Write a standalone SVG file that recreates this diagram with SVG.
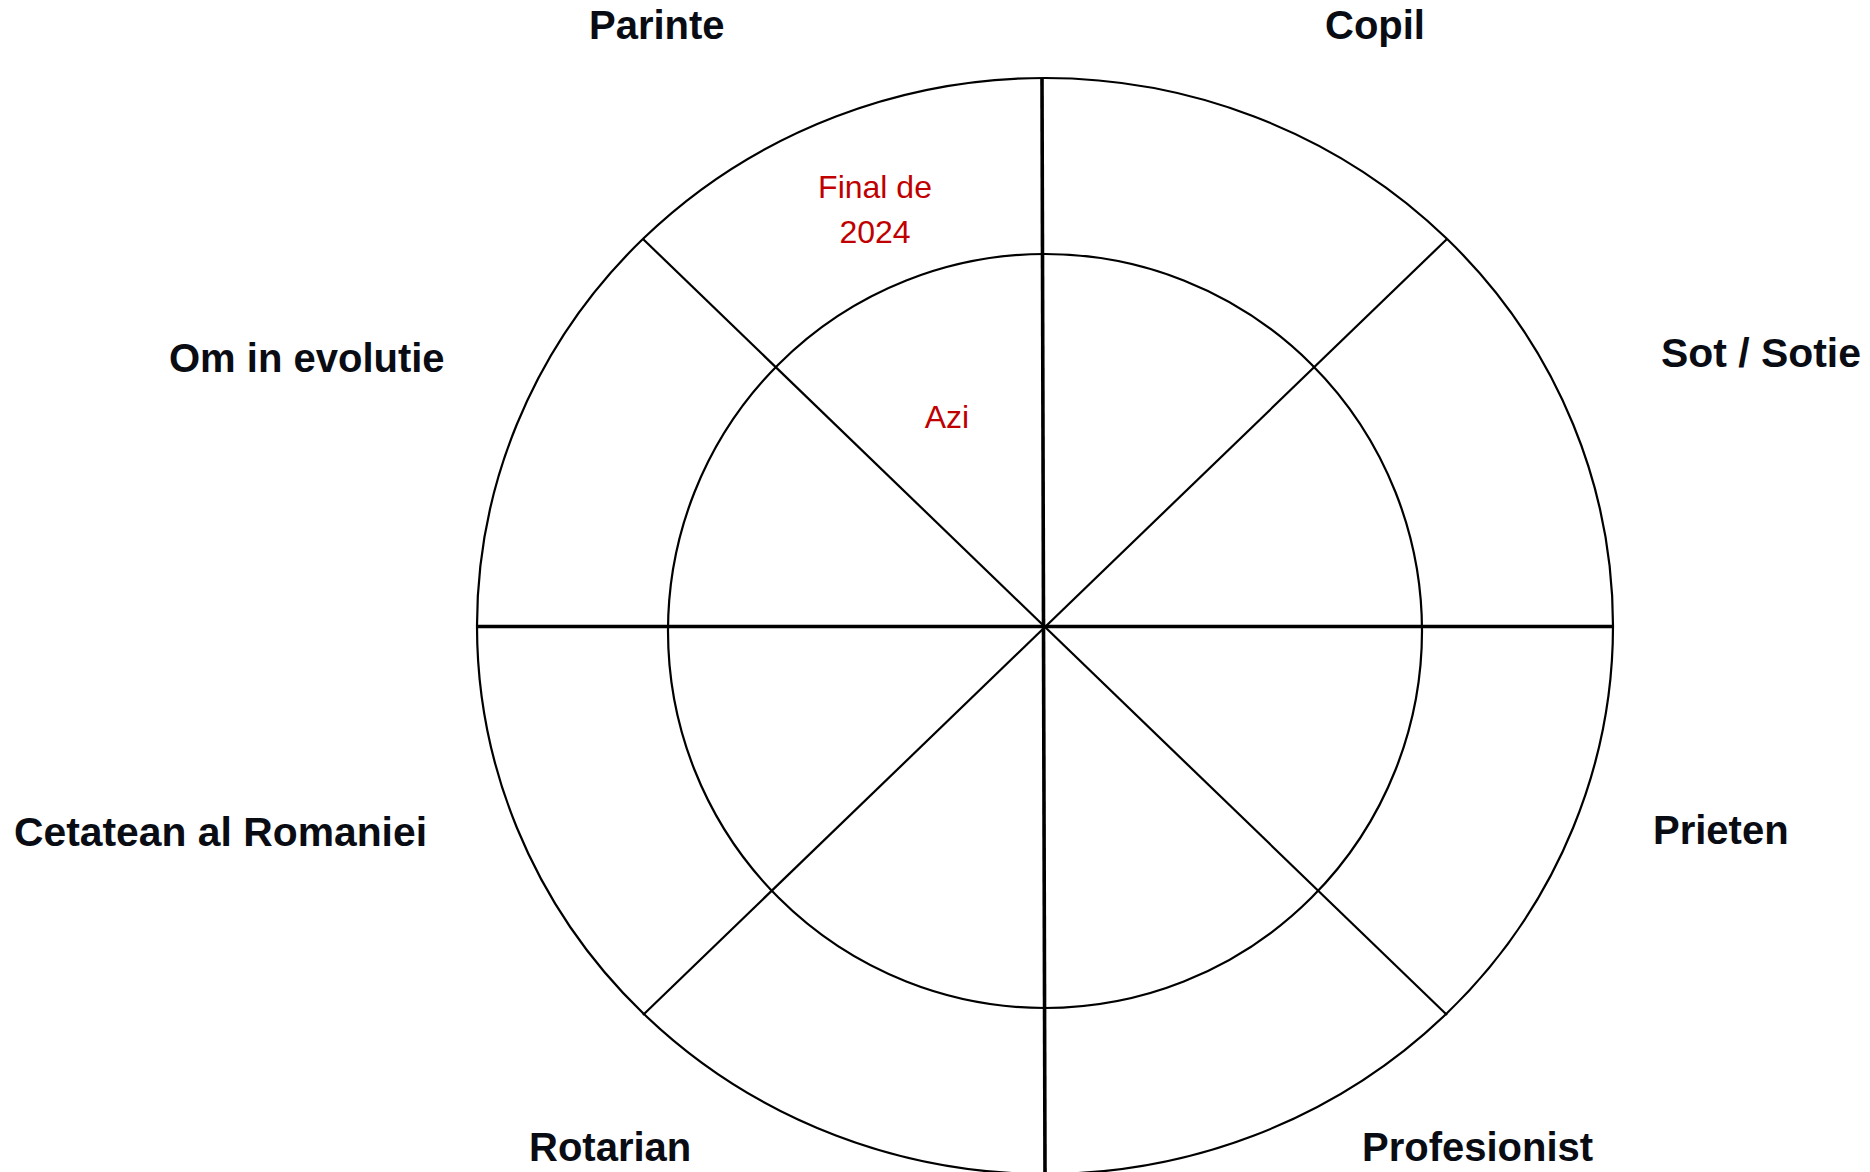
<svg xmlns="http://www.w3.org/2000/svg" width="1870" height="1172" viewBox="0 0 1870 1172">
<style>
.ring{fill:none;stroke:#000;stroke-width:2.2}
.axis{stroke:#000;stroke-width:3.6;fill:none}
.diag{stroke:#000;stroke-width:2.2;fill:none}
.lbl{font-family:"Liberation Sans",Arial,sans-serif;font-weight:bold;font-size:40px;fill:#0a0c14}
.note{font-family:"Liberation Sans",Arial,sans-serif;font-size:32px;fill:#c00000;text-anchor:middle}
</style>
<rect width="1870" height="1172" fill="#fff"/>
<g id="wheel">
<ellipse class="ring" cx="1045" cy="626" rx="568" ry="548"/>
<circle class="ring" cx="1045" cy="631" r="377"/>
</g>
<g id="connectors">
<line class="axis" x1="477" y1="626.5" x2="1613" y2="626.5"/>
<line class="axis" x1="1042" y1="78" x2="1045" y2="1172"/>
<line class="diag" x1="643" y1="239" x2="1447" y2="1015"/>
<line class="diag" x1="1447" y1="239" x2="643" y2="1015"/>
</g>
<g id="parinte"><text class="lbl" x="589" y="39">Parinte</text></g>
<g id="copil"><text class="lbl" x="1325" y="39">Copil</text></g>
<g id="om-in-evolutie"><text class="lbl" x="169" y="372">Om in evolutie</text></g>
<g id="sot-sotie"><text class="lbl" x="1661" y="367" textLength="200" lengthAdjust="spacingAndGlyphs">Sot / Sotie</text></g>
<g id="cetatean"><text class="lbl" x="14" y="846" textLength="413" lengthAdjust="spacingAndGlyphs">Cetatean al Romaniei</text></g>
<g id="prieten"><text class="lbl" x="1653" y="844">Prieten</text></g>
<g id="rotarian"><text class="lbl" x="529" y="1161">Rotarian</text></g>
<g id="profesionist"><text class="lbl" x="1362" y="1161">Profesionist</text></g>
<g id="final-de-2024"><text class="note" x="875" y="198">Final de</text><text class="note" x="875" y="243">2024</text></g>
<g id="azi"><text class="note" x="947" y="428">Azi</text></g>
</svg>
